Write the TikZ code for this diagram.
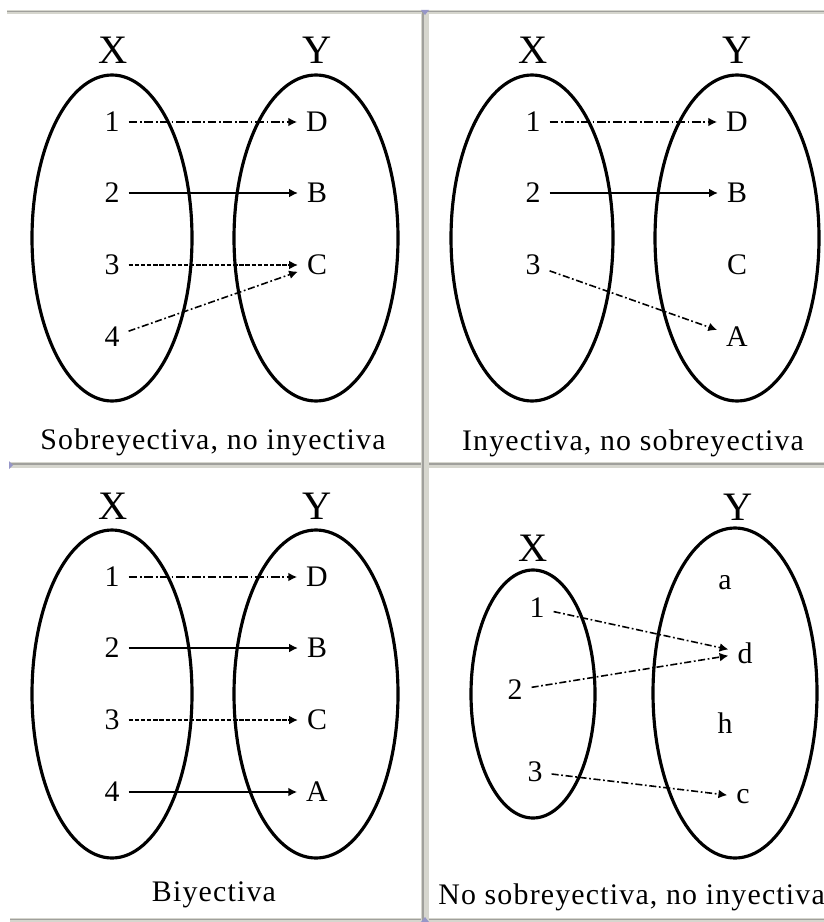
\documentclass[tikz,border=0pt]{standalone}
\usepackage{fontspec}
\setmainfont{Liberation Serif}
\newfontfamily\capfont[LetterSpace=4]{Liberation Serif}
\usetikzlibrary{arrows.meta}
\definecolor{splitbg}{RGB}{214,214,206}
\definecolor{splitdk}{RGB}{160,160,156}
\definecolor{splitmk}{RGB}{150,150,200}
\begin{document}
\begin{tikzpicture}[x=0.02cm,y=-0.02cm,
  setell/.style={draw=black, line width=1.8pt},
  setname/.style={font=\fontsize{23}{23}\selectfont, inner sep=0pt},
  elem/.style={font=\fontsize{17}{17}\selectfont, inner sep=5pt},
  capt/.style={font=\capfont\fontsize{17}{17}\selectfont, inner sep=0pt},
  map/.style={line width=0.9pt, -{Latex[length=5pt,width=5pt]}},
  dotdash/.style={dash pattern=on 5pt off 1.5pt on 1pt off 1.5pt},
  densedash/.style={dash pattern=on 2.5pt off 1pt},
  longdotdash/.style={dash pattern=on 4pt off 1.5pt on 1pt off 1.5pt},
]
\clip (0,0) rectangle (824,922);
\useasboundingbox (0,0) rectangle (824,922);

% ---------- splitter lines ----------
\fill[splitbg] (7,10) rectangle (824,14);
\draw[splitdk, line width=0.8pt] (7,11.5) -- (824,11.5);
\fill[splitbg] (10,462) rectangle (824,468);
\draw[splitdk, line width=0.8pt] (10,464) -- (824,464);
\fill[splitbg] (10,918) rectangle (824,922);
\draw[splitdk, line width=0.6pt] (10,919.5) -- (824,919.5);
\fill[splitbg] (421,12) rectangle (429,922);
\draw[splitdk, line width=0.8pt] (423,12) -- (423,922);
\fill[splitmk] (421,10) -- (429,10) -- (425,15) -- cycle;
\fill[splitmk] (421,922) -- (429,922) -- (425,917) -- cycle;
\fill[splitmk] (9,461) -- (9,469) -- (13,465) -- cycle;

% ---------- panel 1: Sobreyectiva, no inyectiva ----------
\draw[setell] (112,238) ellipse [x radius=80, y radius=163];
\draw[setell] (316,238) ellipse [x radius=82, y radius=163];
\node[setname] (pX) at (113,50) {X};
\node[setname] (pY) at (317,50) {Y};
\node[elem] (p1) at (112,122) {1};
\node[elem] (p2) at (112,193) {2};
\node[elem] (p3) at (112,265) {3};
\node[elem] (p4) at (112,337) {4};
\node[elem] (pD) at (317,122) {D};
\node[elem] (pB) at (317,193) {B};
\node[elem] (pC) at (317,265) {C};
\draw[map, dotdash] (p1) -- (pD);
\draw[map] (p2) -- (pB);
\draw[map, densedash] (p3) -- (pC);
\draw[map, longdotdash] (p4) -- (pC);
\node[capt] (pcap) at (213,442) {Sobreyectiva, no inyectiva};

% ---------- panel 2: Inyectiva, no sobreyectiva ----------
\draw[setell] (532,238) ellipse [x radius=81, y radius=163];
\draw[setell] (737,238) ellipse [x radius=82, y radius=163];
\node[setname] (qX) at (533,50) {X};
\node[setname] (qY) at (737,50) {Y};
\node[elem] (q1) at (533,122) {1};
\node[elem] (q2) at (533,193) {2};
\node[elem] (q3) at (533,265) {3};
\node[elem] (qD) at (737,122) {D};
\node[elem] (qB) at (737,193) {B};
\node[elem] (qC) at (737,265) {C};
\node[elem] (qA) at (737,337) {A};
\draw[map, dotdash] (q1) -- (qD);
\draw[map] (q2) -- (qB);
\draw[map, longdotdash] (q3) -- (qA);
\node[capt] (qcap) at (633,443) {Inyectiva, no sobreyectiva};

% ---------- panel 3: Biyectiva ----------
\draw[setell] (112,694) ellipse [x radius=80, y radius=164];
\draw[setell] (316,694) ellipse [x radius=82, y radius=164];
\node[setname] (rX) at (113,506) {X};
\node[setname] (rY) at (317,506) {Y};
\node[elem] (r1) at (112,577) {1};
\node[elem] (r2) at (112,648) {2};
\node[elem] (r3) at (112,720) {3};
\node[elem] (r4) at (112,792) {4};
\node[elem] (rD) at (317,577) {D};
\node[elem] (rB) at (317,648) {B};
\node[elem] (rC) at (317,720) {C};
\node[elem] (rA) at (317,792) {A};
\draw[map, dotdash] (r1) -- (rD);
\draw[map] (r2) -- (rB);
\draw[map, densedash] (r3) -- (rC);
\draw[map] (r4) -- (rA);
\node[capt] (rcap) at (214,895) {Biyectiva};

% ---------- panel 4: No sobreyectiva, no inyectiva ----------
\draw[setell] (533,694) ellipse [x radius=62, y radius=124];
\draw[setell] (735,693) ellipse [x radius=82, y radius=165];
\node[setname] (sX) at (533,548) {X};
\node[setname] (sY) at (738,507) {Y};
\node[elem] (s1) at (537,608) {1};
\node[elem] (s2) at (515,690) {2};
\node[elem] (s3) at (535,772) {3};
\node[elem] (sa) at (725,583) {a};
\node[elem] (sd) at (745,653) {d};
\node[elem] (sh) at (725,723) {h};
\node[elem] (sc) at (743,797) {c};
\draw[map, longdotdash] (s1) -- (sd);
\draw[map, longdotdash] (s2) -- (sd);
\draw[map, longdotdash] (s3) -- (sc);
\node[capt, anchor=west] (scap) at (438,897) {No sobreyectiva, no inyectiva};
\end{tikzpicture}
\end{document}
